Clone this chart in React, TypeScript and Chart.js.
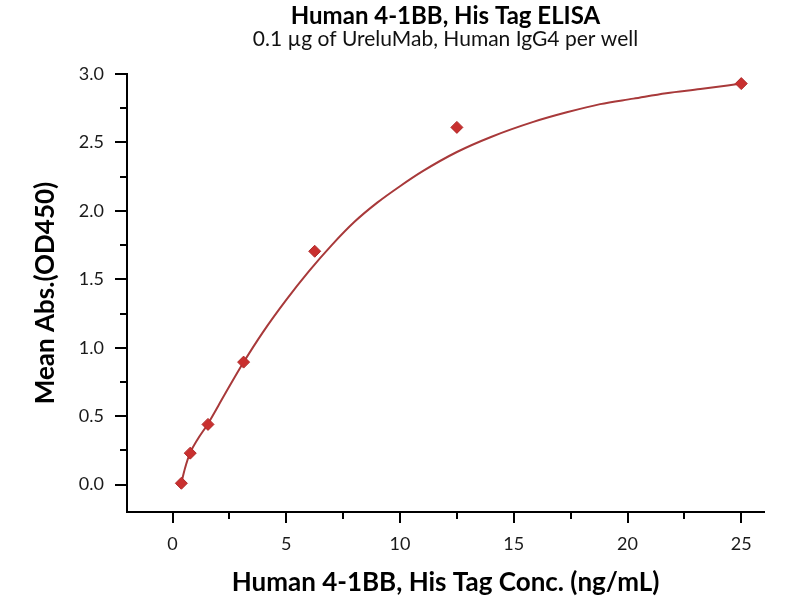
import React, { useEffect, useRef } from "react";
import { Chart, registerables } from "chart.js";

Chart.register(...registerables);

// ---- data ----
const titleText = "Human 4-1BB, His Tag ELISA";
const subtitleText = "0.1 µg of UreluMab, Human IgG4 per well";
const xTitle = "Human 4-1BB, His Tag Conc. (ng/mL)";
const yTitle = "Mean Abs.(OD450)";

const concentrations = [0.39, 0.78, 1.56, 3.125, 6.25, 12.5, 25];
const meanAbs = [0.01, 0.23, 0.44, 0.895, 1.705, 2.61, 2.93];

// fitted curve
const fitX = [0.37, 0.55, 0.77, 1.1, 1.54, 2.3, 3.11, 4.0, 5.0, 6.0, 7.0, 8.0, 9.0, 10.0, 11.0, 12.5, 14.0, 15.86, 17.33, 18.8, 20.26, 21.7, 23.2, 25];
const fitY = [0.0, 0.12, 0.23, 0.33, 0.44, 0.66, 0.89, 1.12, 1.35, 1.56, 1.75, 1.92, 2.06, 2.18, 2.29, 2.43, 2.54, 2.65, 2.72, 2.78, 2.82, 2.86, 2.89, 2.93];

const xTicks = [0, 2.5, 5, 7.5, 10, 12.5, 15, 17.5, 20, 22.5, 25];
const xTickLabels = ["0", "", "5", "", "10", "", "15", "", "20", "", "25"];
const yTicks = [0, 0.25, 0.5, 0.75, 1.0, 1.25, 1.5, 1.75, 2.0, 2.25, 2.5, 2.75, 3.0];
const yTickLabels = ["0.0", "", "0.5", "", "1.0", "", "1.5", "", "2.0", "", "2.5", "", "3.0"];

const X_MIN = -2;
const X_MAX = 26;
const Y_MIN = -0.2;
const Y_MAX = 3.0;

const FONT = "Lato, 'Open Sans', sans-serif";
const RED_POINT = "#c9302f";
const RED_LINE = "#a8393a";

export default function App() {
  const ref = useRef<HTMLCanvasElement | null>(null);

  useEffect(() => {
    if (!ref.current) return;
    const chart = new Chart(ref.current, {
      type: "scatter",
      data: {
        datasets: [
          {
            label: "fit",
            data: fitX.map((x, i) => ({ x, y: fitY[i] })),
            showLine: true,
            borderColor: RED_LINE,
            borderWidth: 2,
            pointRadius: 0,
            cubicInterpolationMode: "monotone",
            order: 2,
          },
          {
            label: "data",
            data: concentrations.map((x, i) => ({ x, y: meanAbs[i] })),
            showLine: false,
            pointStyle: "rectRot",
            pointRadius: 6,
            backgroundColor: RED_POINT,
            borderColor: "#b02a2a",
            borderWidth: 1,
            order: 1,
          },
        ],
      },
      options: {
        animation: false,
        responsive: false,
        devicePixelRatio: 1,
        layout: { padding: { left: 0, right: 36, top: 0, bottom: 0 } },
        plugins: {
          legend: { display: false },
          tooltip: { enabled: false },
          title: {
            display: true,
            text: titleText,
            fullSize: false,
            color: "#000",
            font: { family: FONT, size: 24, weight: "bold", lineHeight: 1.0 },
            padding: { top: 4, bottom: 0 },
          },
          subtitle: {
            display: true,
            text: subtitleText,
            fullSize: false,
            color: "#111",
            font: { family: FONT, size: 21, weight: "normal", lineHeight: 1.0 },
            padding: { top: 1, bottom: 24 },
          },
        },
        scales: {
          x: {
            type: "linear",
            min: X_MIN,
            max: X_MAX,
            afterBuildTicks: (scale: any) => {
              scale.ticks = xTicks.map((v) => ({ value: v }));
            },
            afterFit: (scale: any) => {
              scale.height = 88;
            },
            border: { display: true, color: "#000", width: 2 },
            grid: {
              drawOnChartArea: false,
              drawTicks: true,
              tickLength: 11,
              color: "#000",
              lineWidth: 2,
              tickBorderDash: (ctx: any) => (ctx.index % 2 === 1 ? [6, 100] : []),
            },
            ticks: {
              autoSkip: false,
              maxRotation: 0,
              padding: 10,
              color: "#1a1a1a",
              font: { family: FONT, size: 18 },
              callback: (_v: any, i: number) => xTickLabels[i],
            },
            title: {
              display: true,
              text: xTitle,
              color: "#000",
              font: { family: FONT, size: 26, weight: "bold", lineHeight: 1.2 },
              padding: { top: 0, bottom: 2 },
            },
          },
          y: {
            type: "linear",
            min: Y_MIN,
            max: Y_MAX,
            afterBuildTicks: (scale: any) => {
              scale.ticks = yTicks.map((v) => ({ value: v }));
            },
            afterFit: (scale: any) => {
              scale.width = 127;
            },
            border: { display: true, color: "#000", width: 2 },
            grid: {
              drawOnChartArea: false,
              drawTicks: true,
              tickLength: 12,
              color: "#000",
              lineWidth: 2,
              tickBorderDash: (ctx: any) => (ctx.index % 2 === 1 ? [0, 5, 7, 100] : []),
            },
            ticks: {
              autoSkip: false,
              padding: 11,
              color: "#1a1a1a",
              font: { family: FONT, size: 18 },
              callback: (_v: any, i: number) => yTickLabels[i],
            },
            title: {
              display: true,
              text: yTitle,
              color: "#000",
              font: { family: FONT, size: 26, weight: "bold", lineHeight: 1.2 },
              padding: { top: 30, bottom: 0 },
            },
          },
        },
      },
    });
    return () => chart.destroy();
  }, []);

  return (
    <div style={{ position: "fixed", left: 0, top: 0, width: 800, height: 600, background: "#fff" }}>
      <canvas ref={ref} width={800} height={600} style={{ display: "block" }} />
    </div>
  );
}
